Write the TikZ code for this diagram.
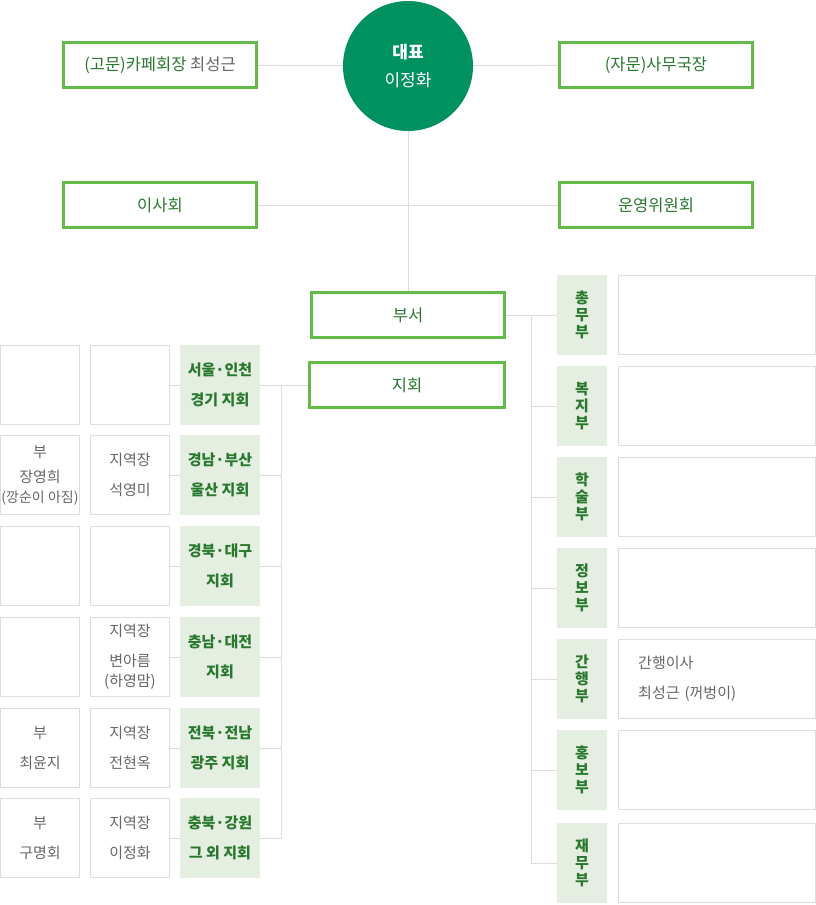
\documentclass[tikz,border=0pt]{standalone}
\usepackage{fontspec}
\setmainfont{Noto Sans CJK KR}
\usetikzlibrary{positioning}

\definecolor{leafgreen}{RGB}{98,187,70}
\definecolor{darkgreen}{RGB}{40,120,45}
\definecolor{ceogreen}{RGB}{0,145,96}
\definecolor{palegreen}{RGB}{229,239,225}
\definecolor{linegray}{RGB}{221,221,221}
\definecolor{textgray}{RGB}{102,102,102}

\tikzset{
  topbox/.style={draw=leafgreen, line width=3pt, rectangle, minimum width=193pt, minimum height=45pt,
    inner sep=0pt, text=darkgreen, font=\fontsize{16.5}{20}\selectfont},
  namebox/.style={draw=linegray, line width=1pt, minimum width=79pt, minimum height=79pt,
    inner sep=0pt, align=center, text=textgray, font=\fontsize{15}{20}\selectfont},
  regionbox/.style={fill=palegreen, minimum width=80pt, minimum height=80pt, inner sep=0pt,
    align=center, text=darkgreen, font=\fontsize{15}{20}\selectfont\bfseries},
  deptbox/.style={fill=palegreen, minimum width=50pt, minimum height=80pt, inner sep=0pt,
    align=center, text=darkgreen, font=\fontsize{15}{17}\selectfont\bfseries},
  staffbox/.style={namebox, minimum width=197pt, text width=157pt, align=left},
  conn/.style={draw=linegray, line width=1pt}
}

\begin{document}
\begin{tikzpicture}[x=1pt, y=-1pt]
    \useasboundingbox (0,0) rectangle (816,905);

    % top of the chart
    \node [circle, fill=ceogreen, minimum size=130pt, inner sep=0pt, text=white, align=center,
      font=\fontsize{17}{20}\selectfont] (ceo) at (408,66) {\textbf{대표}\\[8pt]이정화};
    \node [topbox] (advisor) at (160,65) {(고문)카페회장 {\color{textgray}최성근}};
    \node [topbox] (secretary) at (656,65) {(자문)사무국장};
    \node [topbox] (board) at (160,205) {이사회};
    \node [topbox] (council) at (656,205) {운영위원회};
    \node [topbox] (office) at (408,315) {부서};
    \node [topbox, minimum width=195pt] (branches) at (407,385) {지회};

    % regional branches
    \node [regionbox] (region1) at (220,385) {서울·인천\\[10pt]경기 지회};
    \node [regionbox] (region2) at (220,475) {경남·부산\\[10pt]울산 지회};
    \node [regionbox] (region3) at (220,566) {경북·대구\\[10pt]지회};
    \node [regionbox] (region4) at (220,657) {충남·대전\\[10pt]지회};
    \node [regionbox] (region5) at (220,748) {전북·전남\\[10pt]광주 지회};
    \node [regionbox] (region6) at (220,838) {충북·강원\\[10pt]그 외 지회};

    \node [namebox, left=9.8pt of region1] (leader1) {};
    \node [namebox, left=9.8pt of region2] (leader2) {지역장\\[10pt]석영미};
    \node [namebox, left=9.8pt of region3] (leader3) {};
    \node [namebox, left=9.8pt of region4] (leader4) {지역장\\[10pt]변아름\\(하영맘)};
    \node [namebox, left=9.8pt of region5] (leader5) {지역장\\[10pt]전현옥};
    \node [namebox, left=9.8pt of region6] (leader6) {지역장\\[10pt]이정화};

    \node [namebox, left=10pt of leader1] (deputy1) {};
    \node [namebox, left=10pt of leader2] (deputy2) {부\\[5pt]장영희\\{\fontsize{14}{20}\selectfont(깡순이 아짐)}};
    \node [namebox, left=10pt of leader3] (deputy3) {};
    \node [namebox, left=10pt of leader4] (deputy4) {};
    \node [namebox, left=10pt of leader5] (deputy5) {부\\[10pt]최윤지};
    \node [namebox, left=10pt of leader6] (deputy6) {부\\[10pt]구명회};

    % departments
    \node [deptbox] (dept1) at (582,315) {총\\무\\부};
    \node [deptbox] (dept2) at (582,406) {복\\지\\부};
    \node [deptbox] (dept3) at (582,497) {학\\술\\부};
    \node [deptbox] (dept4) at (582,588) {정\\보\\부};
    \node [deptbox] (dept5) at (582,679) {간\\행\\부};
    \node [deptbox] (dept6) at (582,770) {홍\\보\\부};
    \node [deptbox] (dept7) at (582,863) {재\\무\\부};

    \foreach \i in {1,2,3,4,6,7}
        \node [staffbox, right=10.5pt of dept\i] (staff\i) {};
    \node [staffbox, right=10.5pt of dept5] (staff5) {간행이사\\[10pt]최성근 (꺼벙이)};

    % connectors
    \draw [conn] (advisor) -- (ceo);
    \draw [conn] (ceo) -- (secretary);
    \draw [conn] (board) -- (council);
    \draw [conn] (ceo) -- (office);

    \coordinate (rtrunk) at (531,315);
    \draw [conn] (office) -- (dept1);
    \foreach \i in {2,...,7}
        \draw [conn] (rtrunk) |- (dept\i);

    \coordinate (ltrunk) at (281,385);
    \draw [conn] (branches) -- (region1);
    \foreach \i in {2,...,6}
        \draw [conn] (ltrunk) |- (region\i);
    \foreach \i in {1,...,6}
        \draw [conn] (leader\i) -- (region\i);
\end{tikzpicture}
\end{document}
